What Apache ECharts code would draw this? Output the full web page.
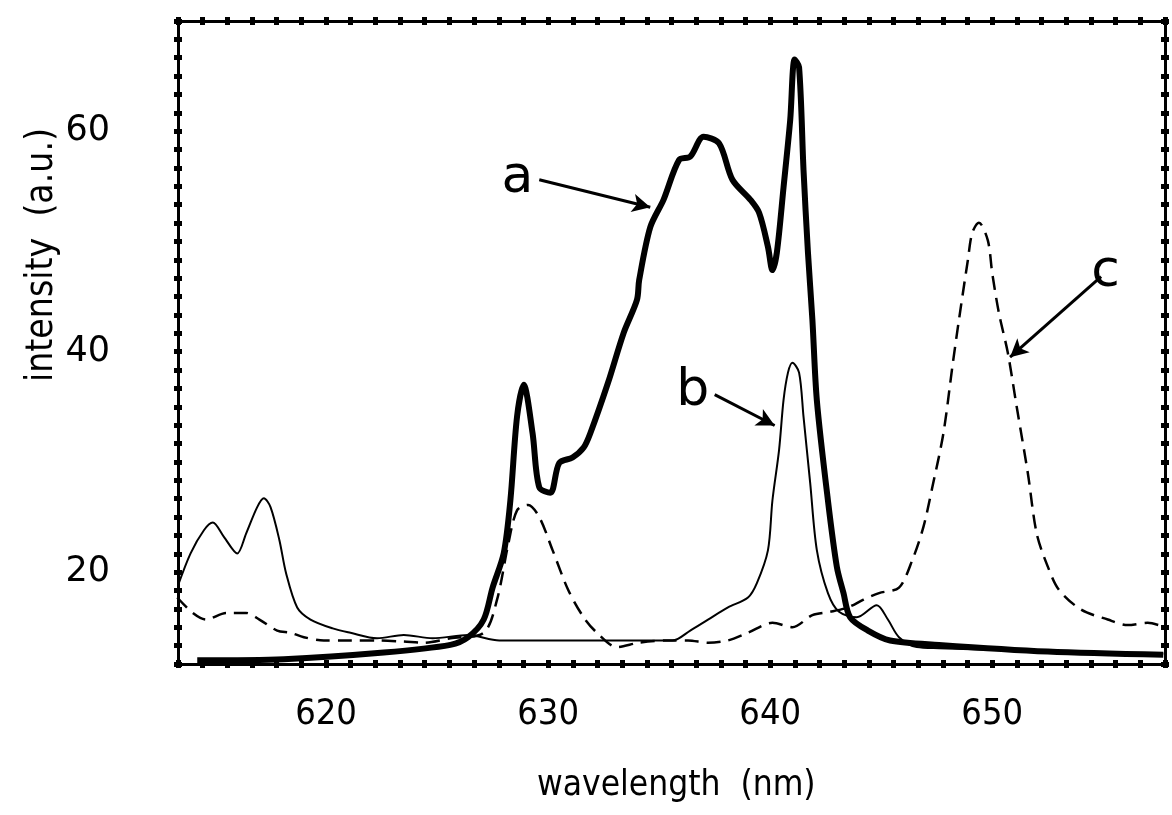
<!DOCTYPE html>
<html>
<head>
<meta charset="utf-8">
<script src="https://cdn.jsdelivr.net/npm/echarts@6/dist/echarts.min.js"></script>
<style>
  html, body { margin: 0; padding: 0; background: #fff; }
  #main { width: 1172px; height: 815px; }
</style>
</head>
<body>
<div id="main"></div>
<script>
// axis ranges (ticks every 10/9 nm and every 5/3 a.u.)
const X_STEP = 10 / 9;
const X_MIN = 552 * X_STEP;
const X_MAX = 592 * X_STEP;
const Y_STEP = 5 / 3;
const Y_MIN = 7 * Y_STEP;
const Y_MAX = 42 * Y_STEP;
const xLabels = [620, 630, 640, 650];
const yLabels = [20, 40, 60];

// curve a (thick)
const curveA = [
    [614.2, 12.0], [618.1, 12.1], [622.6, 12.7], [625.6, 13.4], [626.4, 14.1],
    [627.1, 15.7], [627.5, 18.6], [628.0, 21.7], [628.3, 26.5], [628.6, 34.1],
    [628.9, 37.0], [629.3, 32.6], [629.6, 27.7], [630.1, 27.2], [630.5, 29.9],
    [631.1, 30.4], [631.6, 31.3], [631.9, 32.6], [632.7, 37.2], [633.4, 41.7],
    [634.0, 44.7], [634.1, 46.5], [634.6, 51.3], [635.2, 53.8], [635.9, 57.4],
    [636.4, 57.7], [637.0, 59.5], [637.7, 58.9], [638.3, 55.6], [639.1, 53.8],
    [639.5, 52.6], [639.9, 49.5], [640.1, 47.4], [640.3, 49.0], [640.6, 54.9],
    [640.9, 61.0], [641.1, 66.5], [641.3, 65.8], [641.5, 56.5], [641.7, 49.0],
    [641.9, 42.9], [642.1, 35.6], [642.6, 26.5], [643.0, 20.5], [643.3, 18.1],
    [643.6, 15.9], [644.4, 14.7], [645.4, 13.8], [647.6, 13.4], [652.5, 12.8],
    [657.7, 12.5]
];

// curve b (thin)
const curveB = [
    [613.3, 18.6], [613.9, 21.7], [614.5, 23.8], [614.9, 24.5], [615.4, 23.2],
    [616.0, 21.7], [616.4, 23.5], [616.9, 25.9], [617.2, 26.7], [617.5, 25.9],
    [617.9, 22.9], [618.2, 19.9], [618.7, 16.8], [619.3, 15.7], [620.3, 14.9],
    [621.1, 14.5], [622.3, 14.0], [623.5, 14.3], [624.8, 14.0], [626.4, 14.3],
    [627.8, 13.8], [632.3, 13.8], [635.6, 13.8], [636.4, 14.7], [637.2, 15.7],
    [638.1, 16.8], [639.0, 17.7], [639.4, 19.0], [639.9, 22.0], [640.1, 26.5],
    [640.4, 31.1], [640.6, 35.6], [640.8, 38.1], [641.0, 39.0], [641.3, 38.1],
    [641.5, 34.1], [641.8, 28.1], [642.1, 22.0], [642.6, 18.1], [643.1, 16.4],
    [643.9, 15.9], [644.8, 17.0], [645.3, 15.7], [645.8, 14.1], [646.6, 13.2],
    [647.6, 13.1], [652.6, 12.8], [657.7, 12.6]
];

// curve c (dashed)
const curveC = [
    [613.3, 17.7], [614.0, 16.3], [614.6, 15.7], [615.5, 16.3], [616.4, 16.3],
    [617.0, 15.7], [617.8, 14.7], [618.4, 14.5], [619.0, 14.1], [619.9, 13.8],
    [621.1, 13.8], [622.3, 13.8], [623.5, 13.7], [624.4, 13.6], [625.6, 14.0],
    [627.1, 14.5], [627.7, 17.5], [628.2, 22.5], [628.6, 25.6], [629.1, 26.1],
    [629.6, 25.0], [630.2, 22.0], [630.9, 18.4], [631.6, 15.9], [632.2, 14.5],
    [633.1, 13.2], [634.1, 13.6], [635.4, 13.8], [636.3, 13.8], [637.2, 13.6],
    [638.1, 13.8], [639.0, 14.5], [640.1, 15.4], [641.0, 15.0], [641.9, 16.1],
    [642.7, 16.4], [643.5, 16.8], [644.2, 17.5], [644.9, 18.1], [645.8, 18.6],
    [646.4, 21.1], [646.9, 24.1], [647.3, 27.7], [647.8, 32.6], [648.2, 38.6],
    [648.5, 42.9], [648.9, 48.3], [649.1, 50.8], [649.4, 51.7], [649.8, 50.1],
    [650.0, 47.1], [650.3, 43.5], [650.7, 39.9], [651.1, 35.0], [651.6, 29.0],
    [652.0, 23.5], [652.5, 20.5], [653.0, 18.4], [654.0, 16.6], [655.2, 15.7],
    [656.1, 15.2], [657.0, 15.4], [657.8, 15.0]
];

// annotation arrows: [start, end]
const arrowA = [[629.6, 55.6], [634.6, 53.1]];
const arrowB = [[637.5, 36.1], [640.2, 33.3]];
const arrowC = [[654.9, 46.8], [650.8, 39.5]];

function nearOneOf(v, list) {
    for (var i = 0; i < list.length; i++) {
        if (Math.abs(v - list[i]) < 1e-3) return String(list[i]);
    }
    return '';
}

function frameAxis(pos, inside, main, isX) {
    var ax = {
        type: 'value',
        position: pos,
        min: isX ? X_MIN : Y_MIN,
        max: isX ? X_MAX : Y_MAX,
        interval: isX ? X_STEP : Y_STEP,
        splitLine: { show: false },
        axisLine: { show: !inside, onZero: false, lineStyle: { color: '#000', width: 3 } },
        axisTick: { show: true, inside: inside, length: 4, lineStyle: { color: '#000', width: 5 } },
        axisLabel: { show: false }
    };
    if (main) {
        ax.axisLabel = {
            show: true,
            color: '#000',
            fontFamily: isX ? 'DejaVu Sans Condensed' : 'DejaVu Sans',
            fontSize: isX ? 36 : 35,
            margin: isX ? 33 : 68,
            formatter: function (v) { return nearOneOf(v, isX ? xLabels : yLabels); }
        };
    }
    return ax;
}

function arrowLine(pts, txt) {
    return {
        silent: true,
        symbol: ['none', 'arrow'],
        symbolSize: [14, 18],
        lineStyle: { color: '#000', width: 3, type: 'solid' },
        label: {
            show: true, position: 'start', formatter: txt, distance: 6,
            color: '#000', fontSize: 52, fontFamily: 'DejaVu Sans'
        },
        emphasis: { disabled: true },
        data: [[{ coord: pts[0] }, { coord: pts[1] }]]
    };
}

var dom = document.getElementById('main');
var myChart = echarts.init(dom, null, { renderer: 'canvas' });

var option = {
    animation: false,
    backgroundColor: '#fff',
    grid: { left: 178, right: 7, top: 21, bottom: 151 },
    xAxis: [
        frameAxis('bottom', false, true, true),
        frameAxis('bottom', true, false, true),
        frameAxis('top', false, false, true),
        frameAxis('top', true, false, true)
    ],
    yAxis: [
        frameAxis('left', false, true, false),
        frameAxis('left', true, false, false),
        frameAxis('right', false, false, false),
        frameAxis('right', true, false, false)
    ],
    graphic: [
        {
            type: 'text', left: 24, top: 128, rotation: Math.PI / 2,
            style: { text: 'intensity  (a.u.)', fill: '#000', font: '37px "DejaVu Sans Condensed"' }
        },
        {
            type: 'text', left: 537, top: 768,
            style: { text: 'wavelength  (nm)', fill: '#000', font: '35px "DejaVu Sans Condensed"' }
        }
    ],
    series: [
        {
            name: 'c', type: 'line', data: curveC, showSymbol: false, smooth: 0.3,
            lineStyle: { color: '#000', width: 2.5, type: [14, 8] },
            markLine: arrowLine(arrowC, 'c')
        },
        {
            name: 'b', type: 'line', data: curveB, showSymbol: false, smooth: 0.3,
            lineStyle: { color: '#000', width: 2 },
            markLine: arrowLine(arrowB, 'b')
        },
        {
            name: 'a', type: 'line', data: curveA, showSymbol: false, smooth: 0.3,
            lineStyle: { color: '#000', width: 6 },
            markLine: arrowLine(arrowA, 'a')
        }
    ]
};

if (option && typeof option === 'object') {
    myChart.setOption(option);
}
window.addEventListener('resize', myChart.resize);
</script>
</body>
</html>
